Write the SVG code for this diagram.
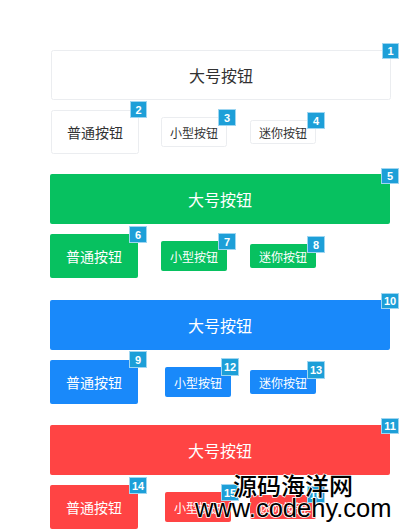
<svg xmlns="http://www.w3.org/2000/svg" width="400" height="529" viewBox="0 0 400 529">
<style>
.bw{fill:#fff;stroke:#ebedf0;stroke-width:1}
.bg{fill:#07c160}
.bb{fill:#1989fa}
.br{fill:#ff4444}
.t{font-family:"Noto Sans CJK SC","Noto Sans",sans-serif;text-anchor:middle;dominant-baseline:central}
.dk{fill:#323233}
.wt{fill:#fff}
.L{font-size:16px}
.N{font-size:14px}
.S{font-size:12px}
.bd rect{fill:#1d9fd8;stroke:#9fd6f1;stroke-width:1}
.bd text{font-family:"Liberation Sans",Arial,sans-serif;font-weight:bold;font-size:11px;fill:#fff;text-anchor:middle;dominant-baseline:central}
.wm{fill:#000;stroke:#fff;stroke-width:1.5;paint-order:stroke}
</style>
<rect width="400" height="529" fill="#fff"/>
<g id="btn-1"><rect class="bw" x="51.5" y="50.5" width="339" height="49" rx="2"/><text class="t dk L" x="221" y="75">大号按钮</text></g>
<g id="btn-2"><rect class="bw" x="51.5" y="110.5" width="87" height="43" rx="2"/><text class="t dk N" x="95" y="132">普通按钮</text></g>
<g id="btn-3"><rect class="bw" x="161.5" y="117.5" width="65" height="29" rx="2"/><text class="t dk S" x="194" y="132">小型按钮</text></g>
<g id="btn-4"><rect class="bw" x="250.5" y="120.5" width="65" height="23" rx="2"/><text class="t dk S" x="283" y="132">迷你按钮</text></g>

<g id="btn-5"><rect class="bg" x="50" y="174" width="340" height="50" rx="2"/><text class="t wt L" x="220" y="199">大号按钮</text></g>
<g id="btn-6"><rect class="bg" x="50" y="234" width="88" height="44" rx="2"/><text class="t wt N" x="94" y="256">普通按钮</text></g>
<g id="btn-7"><rect class="bg" x="161" y="241" width="66" height="30" rx="2"/><text class="t wt S" x="194" y="256">小型按钮</text></g>
<g id="btn-8"><rect class="bg" x="250" y="244" width="66" height="24" rx="2"/><text class="t wt S" x="283" y="256">迷你按钮</text></g>

<g id="btn-10"><rect class="bb" x="50" y="300" width="340" height="50" rx="2"/><text class="t wt L" x="220" y="325">大号按钮</text></g>
<g id="btn-9"><rect class="bb" x="50" y="360" width="88" height="44" rx="2"/><text class="t wt N" x="94" y="382">普通按钮</text></g>
<g id="btn-12"><rect class="bb" x="165" y="367" width="66" height="30" rx="2"/><text class="t wt S" x="198" y="382">小型按钮</text></g>
<g id="btn-13"><rect class="bb" x="250" y="370" width="66" height="24" rx="2"/><text class="t wt S" x="283" y="382">迷你按钮</text></g>

<g id="btn-11"><rect class="br" x="50" y="425" width="340" height="50" rx="2"/><text class="t wt L" x="220" y="450">大号按钮</text></g>
<g id="btn-14"><rect class="br" x="50" y="485" width="88" height="44" rx="2"/><text class="t wt N" x="94" y="507">普通按钮</text></g>
<g id="btn-15"><rect class="br" x="165" y="492" width="66" height="30" rx="2"/><text class="t wt S" x="198" y="507">小型按钮</text></g>
<g id="btn-16"><rect class="br" x="250" y="495" width="66" height="24" rx="2"/><text class="t wt S" x="283" y="507">迷你按钮</text></g>

<g class="bd">
<g id="badge-1"><rect x="382.5" y="43.5" width="16" height="15"/><text x="390.5" y="51">1</text></g>
<g id="badge-2"><rect x="130.5" y="101.5" width="16" height="16"/><text x="138.5" y="109.5">2</text></g>
<g id="badge-3"><rect x="218.5" y="109.5" width="17" height="16"/><text x="227" y="117.5">3</text></g>
<g id="badge-4"><rect x="307.5" y="112.5" width="17" height="16"/><text x="316" y="120.5">4</text></g>
<g id="badge-5"><rect x="381.5" y="168.5" width="17" height="15"/><text x="390" y="176">5</text></g>
<g id="badge-6"><rect x="129.5" y="226.5" width="17" height="16"/><text x="138" y="234.5">6</text></g>
<g id="badge-7"><rect x="218.5" y="233.5" width="17" height="16"/><text x="227" y="241.5">7</text></g>
<g id="badge-8"><rect x="307.5" y="236.5" width="17" height="16"/><text x="316" y="244.5">8</text></g>
<g id="badge-10"><rect x="381.5" y="293.5" width="17" height="15"/><text x="390" y="301">10</text></g>
<g id="badge-9"><rect x="129.5" y="351.5" width="17" height="16"/><text x="138" y="359.5">9</text></g>
<g id="badge-12"><rect x="221.5" y="358.5" width="17" height="17"/><text x="230" y="367">12</text></g>
<g id="badge-13"><rect x="307.5" y="361.5" width="17" height="17"/><text x="316" y="370">13</text></g>
<g id="badge-11"><rect x="381.5" y="418.5" width="17" height="15"/><text x="390" y="426">11</text></g>
<g id="badge-14"><rect x="129.5" y="477.5" width="17" height="16"/><text x="138" y="485.5">14</text></g>
<g id="badge-15"><rect x="221.5" y="484.5" width="17" height="16"/><text x="230" y="492.5">15</text></g>
<g id="badge-16"><rect x="307.5" y="486.5" width="17" height="16"/><text x="316" y="494.5">16</text></g>
</g>

<g id="watermark">
<text class="wm" x="233" y="495" font-family="'Noto Sans CJK SC',sans-serif" font-size="24" font-weight="500">源码海洋网</text>
<text class="wm" x="195" y="517" font-family="'Liberation Sans',Arial,sans-serif" font-size="25.5">www.codehy.com</text>
</g>
</svg>
